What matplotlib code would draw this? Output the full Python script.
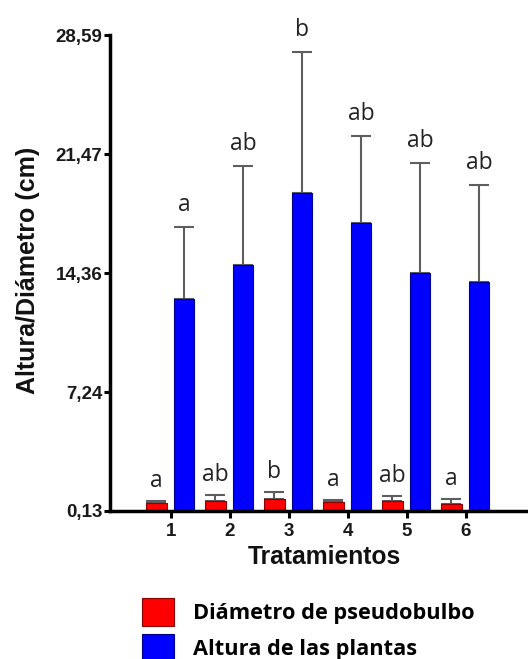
import numpy as np
import matplotlib
matplotlib.use("Agg")
import matplotlib.pyplot as plt

# datos
tratamientos = ["1", "2", "3", "4", "5", "6"]
diametro = [0.61, 0.73, 0.85, 0.67, 0.73, 0.55]
diametro_err = [0.12, 0.36, 0.42, 0.12, 0.30, 0.30]
diametro_letras = ["a", "ab", "b", "a", "ab", "a"]
altura = [12.82, 14.85, 19.16, 17.37, 14.37, 13.83]
altura_err = [4.31, 5.93, 8.44, 5.20, 6.59, 5.81]
altura_letras = ["a", "ab", "b", "ab", "ab", "ab"]
yticks = [0.13, 7.24, 14.36, 21.47, 28.59]
ytick_labels = ["0,13", "7,24", "14,36", "21,47", "28,59"]

fig = plt.figure(figsize=(5.28, 6.59), dpi=100)
ax = fig.add_axes([110 / 528, 1 - 511 / 659, 1 - 110 / 528, (511 - 35) / 659])

x = np.arange(1, len(tratamientos) + 1)
w = 0.35
xr = x - 0.25
xb = x + 0.22

ax.bar(xr, diametro, width=w, color="#ff0000", edgecolor="#8b0000", linewidth=0.8,
       label="Diámetro de pseudobulbo", zorder=2)
ax.bar(xb, altura, width=w, color="#0000ff", edgecolor="#00008b", linewidth=0.8,
       label="Altura de las plantas", zorder=2)

ax.errorbar(xr, diametro, yerr=[np.zeros(6), diametro_err], fmt="none",
            ecolor="#5e5e5e", elinewidth=1.5, capsize=7.5, capthick=1.5, zorder=1)
ax.errorbar(xb, altura, yerr=[np.zeros(6), altura_err], fmt="none",
            ecolor="#5e5e5e", elinewidth=1.5, capsize=7.5, capthick=1.5, zorder=1)

for xi, v, e, t in zip(xr, diametro, diametro_err, diametro_letras):
    ax.annotate(t, (xi, v + e), xytext=(0, 10), textcoords="offset points",
                ha="center", va="baseline", fontsize=16.5, family="Open Sans", color="#222222")
for xi, v, e, t in zip(xb, altura, altura_err, altura_letras):
    ax.annotate(t, (xi, v + e), xytext=(0, 11.5), textcoords="offset points",
                ha="center", va="baseline", fontsize=16.5, family="Open Sans", color="#222222")

ax.set_ylim(0.13, 28.59)
ax.set_xlim(-0.034, 7.05)
ax.set_yticks(yticks)
ax.set_yticklabels(ytick_labels)
ax.set_xticks(x)
ax.set_xticklabels(tratamientos)

for s in ["top", "right"]:
    ax.spines[s].set_visible(False)
for s in ["left", "bottom"]:
    ax.spines[s].set_linewidth(2.5)
ax.tick_params(axis="y", length=4, width=2.2, pad=1.5, labelsize=13.5)
ax.tick_params(axis="x", length=5, width=2.2, pad=4, labelsize=13.5)
for lab in ax.get_xticklabels() + ax.get_yticklabels():
    lab.set_family("Liberation Sans")
    lab.set_fontweight("bold")
    lab.set_color("#1a1a1a")

fig.text(324 / 528, 1 - 557 / 659, "Tratamientos", ha="center", va="center",
         fontsize=17.7, fontweight="bold", family="Liberation Sans", color="#111111")
fig.text(28 / 528, 1 - 270 / 659, "Altura/Diámetro (cm)", rotation=90, ha="center", va="center",
         fontsize=18, fontweight="bold", family="Liberation Sans", color="#111111")

fig.legend(loc="upper left", bbox_to_anchor=(142 / 528, 1 - 598 / 659), frameon=False,
           prop={"family": "Open Sans", "weight": "bold", "size": 15.7},
           handlelength=1.45, handleheight=1.6, handletextpad=0.9, labelspacing=0.38,
           borderpad=0, borderaxespad=0)

fig.savefig("out.png", dpi=100)
